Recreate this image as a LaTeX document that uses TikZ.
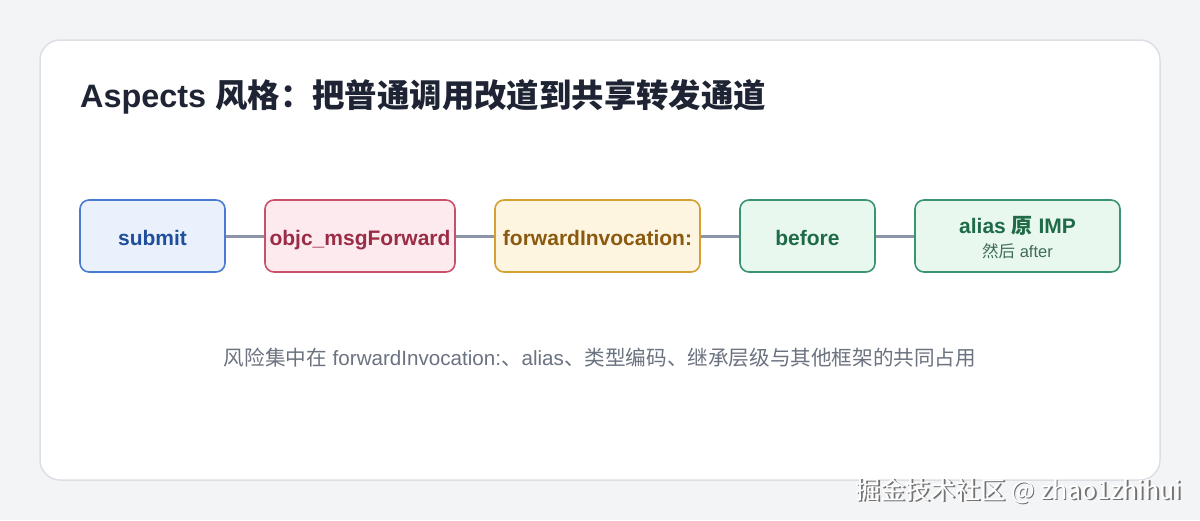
\documentclass[tikz,border=0pt]{standalone}
\usepackage{fontspec}
\setmainfont{Liberation Sans}
\newfontfamily\cjk{Noto Sans CJK SC}
\newcommand{\zh}[1]{{\cjk #1}}
\definecolor{bgc}{HTML}{F3F4F6}
\definecolor{cardline}{HTML}{DCDFE4}
\definecolor{titlec}{HTML}{1E2433}
\definecolor{linkc}{HTML}{8B95A7}
\definecolor{capc}{HTML}{6B7280}
\definecolor{bluefill}{HTML}{EAF1FD}
\definecolor{blueline}{HTML}{4A7BD0}
\definecolor{bluetext}{HTML}{1F4E9A}
\definecolor{redfill}{HTML}{FDEAEE}
\definecolor{redline}{HTML}{C9506A}
\definecolor{redtext}{HTML}{9B2C46}
\definecolor{ambfill}{HTML}{FEF5E0}
\definecolor{ambline}{HTML}{D4A030}
\definecolor{ambtext}{HTML}{8A5A10}
\definecolor{grnfill}{HTML}{E9F8EF}
\definecolor{grnline}{HTML}{3A9470}
\definecolor{grntext}{HTML}{1F6B47}
\definecolor{grnsub}{HTML}{3F6B57}
\begin{document}
\begin{tikzpicture}[x=1pt,y=-1pt,
  box/.style={draw, rounded corners=9pt, line width=1.6pt, minimum height=72pt,
    inner sep=0pt, align=center, text height=19pt, text depth=0pt,
    font=\bfseries\fontsize{21}{25}\selectfont},
  bluebox/.style={box, fill=bluefill, draw=blueline, text=bluetext},
  redbox/.style={box, fill=redfill, draw=redline, text=redtext},
  ambbox/.style={box, fill=ambfill, draw=ambline, text=ambtext},
  grnbox/.style={box, fill=grnfill, draw=grnline, text=grntext},
  link/.style={draw=linkc, line width=3pt}]
\useasboundingbox (0,0) rectangle (1200,520);
\fill[bgc] (0,0) rectangle (1200,520);
\draw[cardline, fill=white, line width=1.5pt, rounded corners=20pt] (40,40) rectangle (1160,480);

\node[anchor=base west, inner sep=0pt, text=titlec, font=\bfseries\fontsize{32.4}{38}\selectfont] (title) at (80,107)
  {Aspects \zh{风格：把普通调用改道到共享转发通道}};

\node[bluebox, minimum width=145pt] (submit) at (152.5,236) {submit};
\node[redbox, minimum width=190pt] (msgfwd) at (360,236) {objc\_msgForward};
\node[ambbox, minimum width=205pt] (fwdinv) at (597.5,236) {forwardInvocation:};
\node[grnbox, minimum width=135pt] (before) at (807.5,236) {before};
\node[grnbox, minimum width=205pt, text height=0pt] (alias) at (1017.5,236) {};
\node[anchor=base, inner sep=0pt, text=grntext, font=\bfseries\fontsize{21}{25}\selectfont] (aliastxt) at (1017.5,233) {alias \zh{原} IMP};
\node[anchor=base, inner sep=0pt, text=grnsub, font=\fontsize{16.5}{19}\selectfont] (aftertxt) at (1017.5,257) {\zh{然后} after};

\draw[link] (submit) -- (msgfwd);
\draw[link] (msgfwd) -- (fwdinv);
\draw[link] (fwdinv) -- (before);
\draw[link] (before) -- (alias);

\node[anchor=base, inner sep=0pt, text=capc, font=\fontsize{20.6}{24}\selectfont] (caption) at (600,365)
  {\zh{风险集中在} forwardInvocation:\zh{、}alias\zh{、类型编码、继承层级与其他框架的共同占用}};

\node[anchor=base east, inner sep=0pt, text=black!55, font=\cjk\fontsize{25}{30}\selectfont] (wmshadow) at (1183.5,500.5) {掘金技术社区 @ zhao1zhihui};
\node[anchor=base east, inner sep=0pt, text=white, font=\cjk\fontsize{25}{30}\selectfont] (wm) at (1182,499) {掘金技术社区 @ zhao1zhihui};
\end{tikzpicture}
\end{document}
